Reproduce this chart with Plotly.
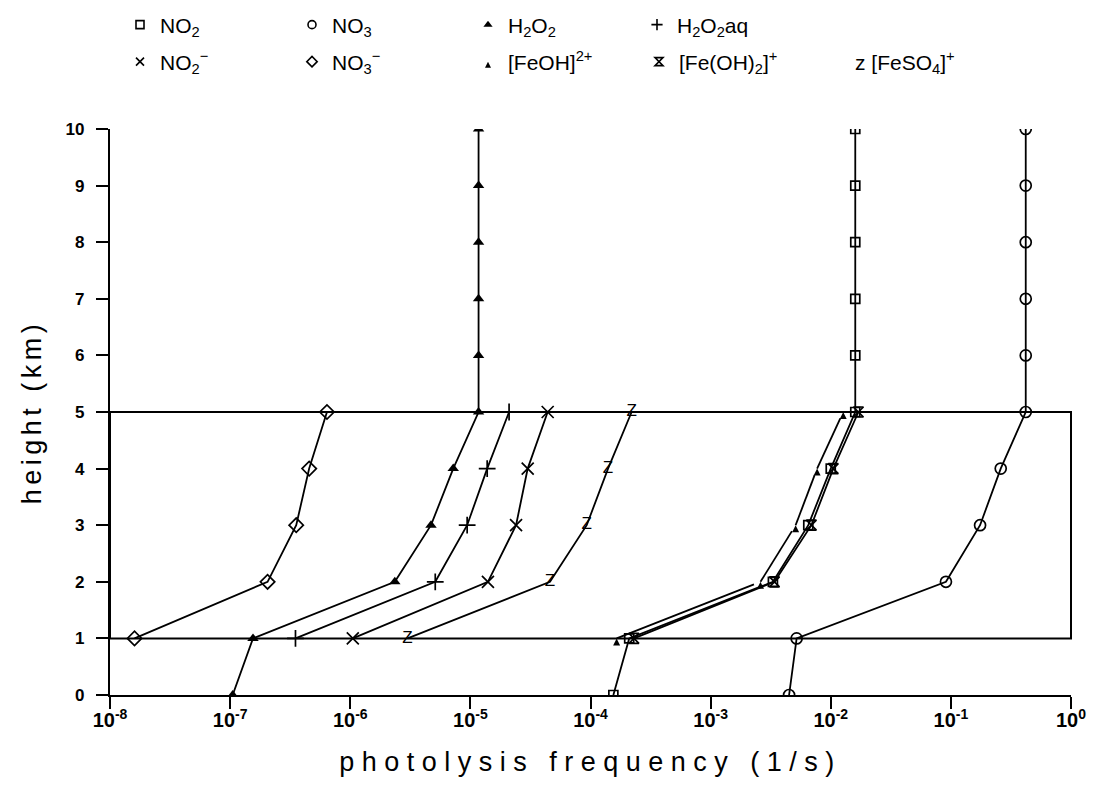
import plotly.graph_objects as go

# ---- data -------------------------------------------------------------
HEIGHT_KM = [0, 1, 2, 3, 4, 5, 6, 7, 8, 9, 10]   # gas-phase profile levels
CLOUD_KM = [1, 2, 3, 4, 5]                        # levels inside the cloud layer

# gas-phase photolysis frequencies (1/s)
J_NO2 = [1.55e-4, 2.1e-4, 3.3e-3, 6.5e-3, 1.0e-2, 1.6e-2, 1.6e-2, 1.6e-2, 1.6e-2, 1.6e-2, 1.6e-2]
J_NO3 = [4.5e-3, 5.2e-3, 9.1e-2, 0.175, 0.26, 0.42, 0.42, 0.42, 0.42, 0.42, 0.42]
J_H2O2 = [1.05e-7, 1.55e-7, 2.35e-6, 4.7e-6, 7.2e-6, 1.17e-5, 1.17e-5, 1.17e-5, 1.17e-5, 1.17e-5, 1.17e-5]

# aqueous-phase photolysis frequencies (1/s)
J_H2O2AQ = [3.5e-7, 5.1e-6, 9.4e-6, 1.38e-5, 2.1e-5]
J_NO2_ION = [1.05e-6, 1.4e-5, 2.4e-5, 3.0e-5, 4.4e-5]
J_NO3_ION = [1.6e-8, 2.05e-7, 3.55e-7, 4.55e-7, 6.4e-7]
J_FEOH = [1.65e-4, 2.6e-3, 5.1e-3, 7.7e-3, 1.27e-2]
J_FEOH2 = [2.3e-4, 3.4e-3, 6.9e-3, 1.05e-2, 1.7e-2]
J_FESO4 = [3.0e-6, 4.6e-5, 9.3e-5, 1.4e-4, 2.2e-4]

X_TICK_VALS = [1e-8, 1e-7, 1e-6, 1e-5, 1e-4, 1e-3, 1e-2, 1e-1, 1e0]
X_TICK_TEXT = ["10<sup>-8</sup>", "10<sup>-7</sup>", "10<sup>-6</sup>", "10<sup>-5</sup>",
               "10<sup>-4</sup>", "10<sup>-3</sup>", "10<sup>-2</sup>", "10<sup>-1</sup>",
               "10<sup>0</sup>"]
Y_TICK_VALS = [0, 1, 2, 3, 4, 5, 6, 7, 8, 9, 10]

# ---- styling ----------------------------------------------------------
FONT = "Liberation Sans, Arial, sans-serif"
INK = "black"
CLEAR = "rgba(0,0,0,0)"

W, H = 1093, 790
M_L, M_R, M_T, M_B = 110, 22, 129, 95
PW, PH = W - M_L - M_R, H - M_T - M_B

series = [
    # name, heights, values, marker symbol, marker size, key symbol size, key slot (px)
    dict(name="NO<sub>2</sub>", y=HEIGHT_KM, x=J_NO2, symbol="square-open", size=9, ksize=8, leg=(140, 25)),
    dict(name="NO<sub>3</sub>", y=HEIGHT_KM, x=J_NO3, symbol="circle-open", size=11, ksize=8, leg=(312, 25)),
    dict(name="H<sub>2</sub>O<sub>2</sub>", y=HEIGHT_KM, x=J_H2O2, symbol="triangle-up", size=10, ksize=8, leg=(488, 25)),
    dict(name="H<sub>2</sub>O<sub>2</sub>aq", y=CLOUD_KM, x=J_H2O2AQ, symbol="cross-thin-open", size=12, ksize=8, leg=(657, 25)),
    dict(name="NO<sub>2</sub><sup>\u2212</sup>", y=CLOUD_KM, x=J_NO2_ION, symbol="x-thin-open", size=12, ksize=8, leg=(140, 62)),
    dict(name="NO<sub>3</sub><sup>\u2212</sup>", y=CLOUD_KM, x=J_NO3_ION, symbol="diamond-open", size=11, ksize=8, leg=(312, 62)),
    dict(name="[FeOH]<sup>2+</sup>", y=CLOUD_KM, x=J_FEOH, symbol="arrow-up", size=7, ksize=6, leg=(488, 62)),
    dict(name="[Fe(OH)<sub>2</sub>]<sup>+</sup>", y=CLOUD_KM, x=J_FEOH2, symbol="hourglass-open", size=10, ksize=8, leg=(659, 62)),
]

fig = go.Figure()

for s in series:
    open_sym = s["symbol"].endswith("open")
    fig.add_trace(go.Scatter(
        x=s["x"], y=s["y"], mode="lines+markers", showlegend=False,
        line=dict(color=INK, width=1.8),
        marker=dict(symbol=s["symbol"], size=s["size"], color=INK,
                    line=dict(color=INK, width=1.7 if open_sym else 0)),
    ))

# [FeSO4]+ uses a letter as its plotting symbol
fig.add_trace(go.Scatter(
    x=J_FESO4, y=CLOUD_KM, mode="lines+text", showlegend=False,
    text=["Z"] * len(CLOUD_KM), textposition="middle center",
    textfont=dict(family=FONT, size=17, color=INK),
    line=dict(color=INK, width=1.8),
))

# legend key: one single-entry legend per species, placed on a 2-row grid
key_entries = series + [dict(name="z [FeSO<sub>4</sub>]<sup>+</sup>", symbol="circle",
                             ksize=1, leg=(835, 62), hidden=True)]
legend_layout = {}
for i, s in enumerate(key_entries):
    key = "legend" if i == 0 else f"legend{i + 1}"
    open_sym = s["symbol"].endswith("open")
    hidden = s.get("hidden", False)
    fig.add_trace(go.Scatter(
        x=[None], y=[None], mode="markers", name=s["name"], legend=key,
        marker=dict(symbol=s["symbol"], size=s["ksize"],
                    color=CLEAR if hidden else INK,
                    line=dict(color=CLEAR if hidden else INK,
                              width=1.6 if open_sym else 0)),
    ))
    px, py = s["leg"]
    legend_layout[key] = dict(
        x=(px - 20 - M_L) / PW, y=(H - M_B - py) / PH,
        xanchor="left", yanchor="middle", orientation="h",
        bgcolor=CLEAR, borderwidth=0,
        font=dict(family=FONT, size=21, color=INK),
        itemsizing="trace",
    )

# cloud layer (1-5 km)
fig.add_shape(type="rect", xref="paper", x0=0, x1=1, yref="y", y0=1, y1=5,
              line=dict(color=INK, width=2), fillcolor=CLEAR, layer="above")

fig.update_layout(
    width=W, height=H,
    margin=dict(l=M_L, r=M_R, t=M_T, b=M_B, autoexpand=False),
    paper_bgcolor="white", plot_bgcolor="white",
    font=dict(family=FONT, color=INK),
    **legend_layout,
)

fig.update_xaxes(
    type="log", range=[-8, 0],
    tickvals=X_TICK_VALS, ticktext=X_TICK_TEXT,
    showgrid=False, zeroline=False,
    showline=True, linecolor=INK, linewidth=2.2,
    ticks="outside", ticklen=12, tickwidth=2, tickcolor=INK,
    ticklabelstandoff=-6,
    tickfont=dict(family=FONT, size=20, color=INK, weight="bold"),
    title=dict(text="photolysis frequency (1/s)", standoff=22,
               font=dict(family=FONT, size=27, color=INK)),
)
fig.update_yaxes(
    range=[0, 10], tickvals=Y_TICK_VALS,
    showgrid=False, zeroline=False,
    showline=True, linecolor=INK, linewidth=2.2,
    ticks="outside", ticklen=12, tickwidth=2, tickcolor=INK,
    ticklabelstandoff=8,
    tickfont=dict(family=FONT, size=17, color=INK, weight="bold"),
    title=dict(text="height (km)", standoff=16,
               font=dict(family=FONT, size=27, color=INK)),
)

# widen the letter spacing of the axis titles
SPACING_JS = """
var gd = document.getElementById('{plot_id}');
function spreadTitles() {
  gd.querySelectorAll('.g-xtitle text').forEach(function (t) { t.style.letterSpacing = '7.5px'; });
  gd.querySelectorAll('.g-ytitle text').forEach(function (t) { t.style.letterSpacing = '4.5px'; });
}
spreadTitles();
gd.on('plotly_afterplot', spreadTitles);
"""

fig.write_html("out.html", post_script=SPACING_JS)
